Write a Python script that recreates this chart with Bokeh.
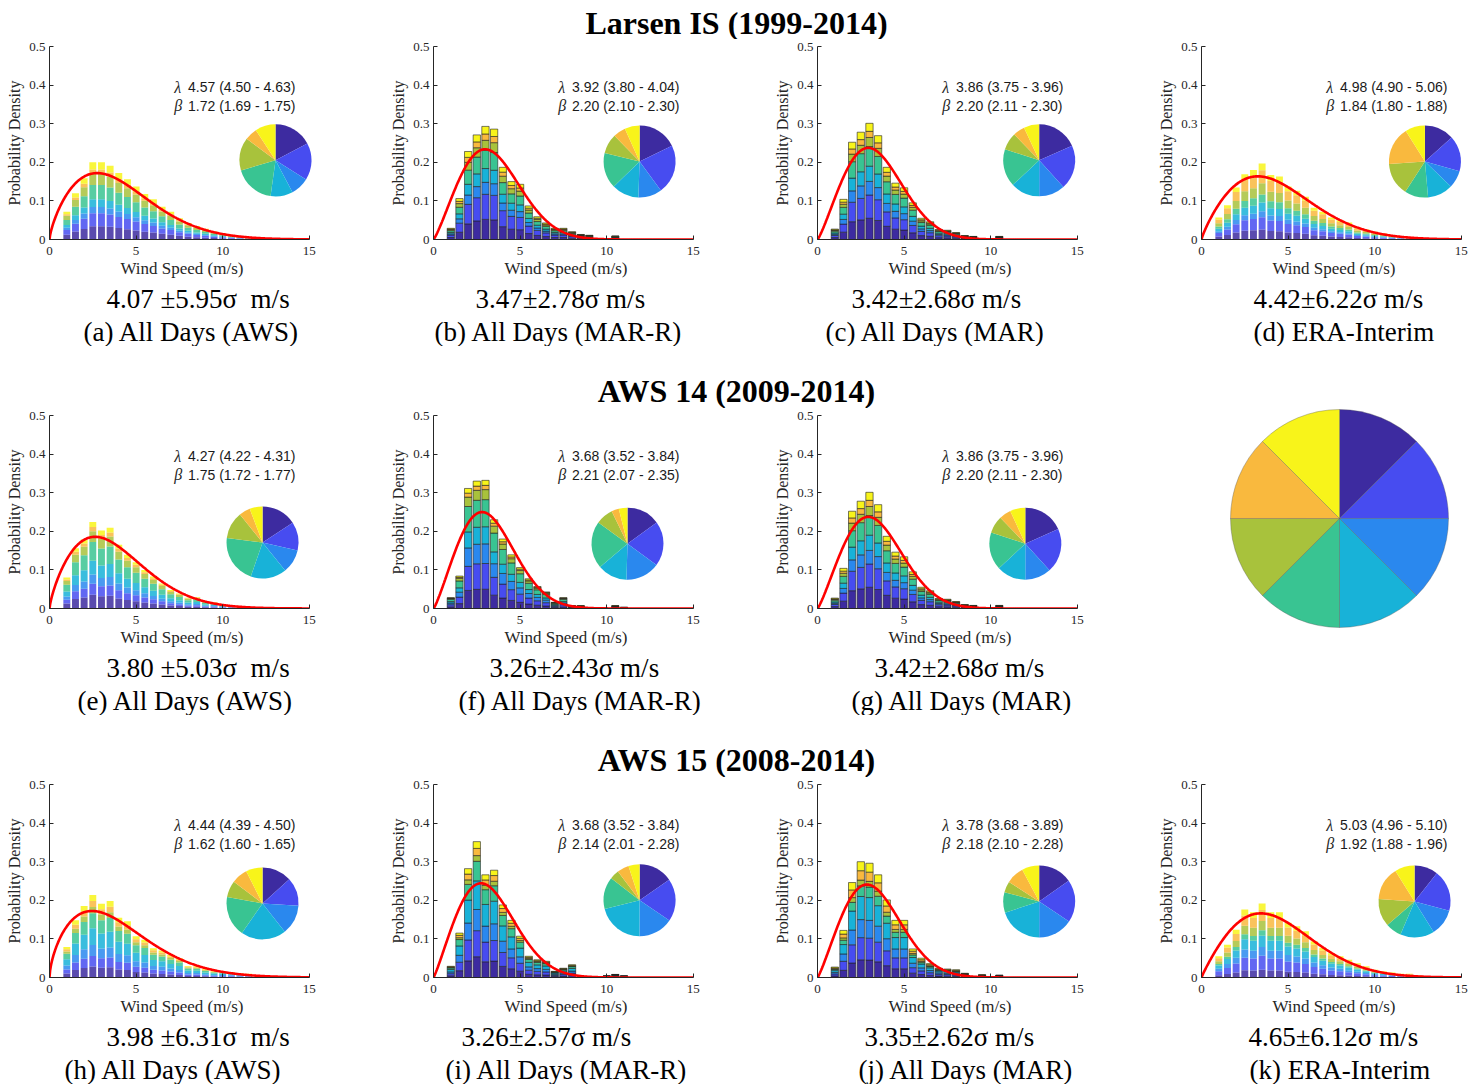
import numpy as np
from bokeh.plotting import figure
from bokeh.layouts import column, row
from bokeh.models import Range1d, Title, ColumnDataSource, FixedTicker
from bokeh.embed import file_html
from bokeh.resources import INLINE
from bokeh.core.properties import value

# ---------------------------------------------------------------- data
directions = ["N", "NE", "E", "SE", "S", "SW", "W", "NW"]
dir_colors = ["#3D2BA0", "#474CF0", "#2A88EE", "#18B2D8",
              "#39C492", "#A8C23C", "#F9B93E", "#F8F41A"]

bin_start = 1.0      # centre of first wind-speed bin (m/s)
bin_step = 0.5       # bin width (m/s)

row_titles = ["Larsen IS (1999-2014)", "AWS 14 (2009-2014)", "AWS 15 (2008-2014)"]

# probability density of each 0.5 m/s bin (first bin centred on 1.0 m/s)
hist_a = [0.072, 0.120, 0.159, 0.200, 0.200, 0.191, 0.172, 0.156, 0.137, 0.118, 0.104, 0.085,
          0.072, 0.055, 0.043, 0.035, 0.028, 0.021, 0.016, 0.011, 0.008, 0.005, 0.003]
hist_b = [0.029, 0.106, 0.228, 0.271, 0.293, 0.286, 0.187, 0.150, 0.143, 0.087, 0.059, 0.043,
          0.029, 0.029, 0.020, 0.013, 0.011, 0.0, 0.0, 0.009]
hist_c = [0.027, 0.104, 0.252, 0.278, 0.301, 0.269, 0.187, 0.146, 0.134, 0.095, 0.055, 0.046,
          0.026, 0.024, 0.018, 0.010, 0.008, 0.0, 0.0, 0.008]
hist_d = [0.057, 0.089, 0.135, 0.169, 0.180, 0.197, 0.167, 0.163, 0.137, 0.126, 0.111, 0.082,
          0.072, 0.057, 0.050, 0.044, 0.031, 0.026, 0.020, 0.016, 0.011, 0.008, 0.006, 0.003]
hist_e = [0.080, 0.156, 0.179, 0.224, 0.202, 0.209, 0.165, 0.139, 0.120, 0.100, 0.083, 0.065,
          0.048, 0.039, 0.028, 0.030, 0.019, 0.017, 0.010, 0.009, 0.004]
hist_f = [0.028, 0.084, 0.311, 0.330, 0.332, 0.230, 0.180, 0.139, 0.106, 0.077, 0.057, 0.043,
          0.016, 0.028, 0.007, 0.007, 0.0, 0.0, 0.0, 0.007, 0.003]
hist_g = [0.027, 0.104, 0.252, 0.278, 0.301, 0.269, 0.187, 0.146, 0.134, 0.095, 0.055, 0.046,
          0.026, 0.024, 0.018, 0.010, 0.008, 0.0, 0.0, 0.008]
hist_h = [0.079, 0.148, 0.185, 0.214, 0.191, 0.198, 0.155, 0.146, 0.107, 0.098, 0.076, 0.070,
          0.059, 0.050, 0.030, 0.029, 0.022, 0.017, 0.016, 0.014, 0.011, 0.010, 0.004]
hist_i = [0.029, 0.115, 0.282, 0.352, 0.266, 0.278, 0.188, 0.148, 0.107, 0.055, 0.046, 0.042,
          0.016, 0.024, 0.033, 0.0, 0.0, 0.0, 0.004, 0.008, 0.004]
hist_j = [0.027, 0.122, 0.246, 0.300, 0.296, 0.266, 0.201, 0.148, 0.148, 0.074, 0.050, 0.036,
          0.024, 0.022, 0.020, 0.011, 0.0, 0.007, 0.0, 0.006]
hist_k = [0.055, 0.085, 0.124, 0.176, 0.169, 0.192, 0.169, 0.169, 0.142, 0.133, 0.120, 0.094,
          0.077, 0.063, 0.055, 0.046, 0.037, 0.029, 0.020, 0.016, 0.013, 0.010, 0.010, 0.006]

# share of days per wind direction (%), N, NE, E, SE, S, SW, W, NW
share_a = [17.2, 16.7, 8.3, 10.0, 18.3, 14.7, 5.6, 9.2]
share_b = [17.8, 22.2, 10.6, 12.2, 16.1, 8.9, 5.6, 6.7]
share_c = [18.3, 20.0, 11.7, 13.1, 16.9, 7.8, 5.3, 6.9]
share_d = [13.3, 16.1, 7.8, 11.4, 10.6, 14.7, 17.2, 8.9]
share_e = [15.8, 12.8, 10.6, 16.1, 21.7, 12.2, 5.0, 5.8]
share_f = [15.0, 20.0, 15.3, 13.3, 21.1, 7.8, 3.3, 3.9]
share_g = [18.3, 20.0, 11.7, 13.1, 16.9, 7.8, 5.3, 6.9]
share_h = [13.3, 12.8, 13.3, 20.3, 18.1, 7.5, 7.2, 7.5]
share_i = [15.3, 19.2, 15.6, 21.1, 14.4, 4.2, 5.3, 5.0]
share_j = [15.3, 19.2, 15.6, 20.0, 9.2, 5.0, 8.1, 7.8]
share_k = [10.6, 18.6, 11.9, 15.3, 7.2, 12.5, 15.0, 8.9]
share_legend = [12.5, 12.5, 12.5, 12.5, 12.5, 12.5, 12.5, 12.5]

# Weibull fit: [estimate, lower, upper]
lam_a, beta_a = [4.57, 4.50, 4.63], [1.72, 1.69, 1.75]
lam_b, beta_b = [3.92, 3.80, 4.04], [2.20, 2.10, 2.30]
lam_c, beta_c = [3.86, 3.75, 3.96], [2.20, 2.11, 2.30]
lam_d, beta_d = [4.98, 4.90, 5.06], [1.84, 1.80, 1.88]
lam_e, beta_e = [4.27, 4.22, 4.31], [1.75, 1.72, 1.77]
lam_f, beta_f = [3.68, 3.52, 3.84], [2.21, 2.07, 2.35]
lam_g, beta_g = [3.86, 3.75, 3.96], [2.20, 2.11, 2.30]
lam_h, beta_h = [4.44, 4.39, 4.50], [1.62, 1.60, 1.65]
lam_i, beta_i = [3.68, 3.52, 3.84], [2.14, 2.01, 2.28]
lam_j, beta_j = [3.78, 3.68, 3.89], [2.18, 2.10, 2.28]
lam_k, beta_k = [5.03, 4.96, 5.10], [1.92, 1.88, 1.96]

mean_texts = ["4.07 \u00b15.95\u03c3\u00a0 m/s", "3.47\u00b12.78\u03c3 m/s", "3.42\u00b12.68\u03c3 m/s",
              "4.42\u00b16.22\u03c3 m/s", "3.80 \u00b15.03\u03c3\u00a0 m/s", "3.26\u00b12.43\u03c3 m/s",
              "3.42\u00b12.68\u03c3 m/s", "3.98 \u00b16.31\u03c3\u00a0 m/s", "3.26\u00b12.57\u03c3 m/s",
              "3.35\u00b12.62\u03c3 m/s", "4.65\u00b16.12\u03c3 m/s"]
captions = ["(a) All Days (AWS)", "(b) All Days (MAR-R)", "(c) All Days (MAR)", "(d) ERA-Interim",
            "(e) All Days (AWS)", "(f) All Days (MAR-R)", "(g) All Days (MAR)",
            "(h) All Days (AWS)", "(i) All Days (MAR-R)", "(j) All Days (MAR)", "(k) ERA-Interim"]
x_ticks = [0, 5, 10, 15]
y_ticks = [0, 0.1, 0.2, 0.3, 0.4, 0.5]

# ---------------------------------------------------------------- layout / style
SERIF = "Liberation Serif"
SANS = "Liberation Sans"
TXT = "#262626"
X_END = 15.3                      # frame runs a little past 15 so pies are not cut
COL_W = [387, 384, 384, 313]
LEFT_B = [49, 46, 46, 46]
RIGHT_B = [73, 73, 73, 2]
TOP_B = 7
BOTTOM_B = 107
FIG_H = TOP_B + 193 + BOTTOM_B
T_BANDS = [39, 62, 62]
TITLE_Y = [22, 44, 44]
PAGE_W = sum(COL_W)
TITLE_X = 736
# left edge (px from the axis) of the two caption lines under each panel
MEAN_LEFT = [57, 42, 34, 52, 57, 56, 57, 57, 28, 47, 47]
CAP_LEFT = [34, 1, 8, 52, 28, 25, 34, 15, 12, 41, 48]

# pie centres in data coordinates (x m/s, y density)
pie_pos = {"a": (13.05, 0.205), "b": (11.9, 0.202), "c": (12.8, 0.205), "d": (12.9, 0.202),
           "e": (12.3, 0.171), "f": (11.2, 0.168), "g": (12.0, 0.168),
           "h": (12.3, 0.192), "i": (11.9, 0.200), "j": (12.8, 0.197), "k": (12.3, 0.197)}


def pie_angles(shares):
    frac = np.asarray(shares, dtype=float)
    frac = frac / frac.sum()
    cum = np.concatenate([[0.0], np.cumsum(frac)])
    start = np.pi / 2 - 2 * np.pi * cum[1:]
    end = np.pi / 2 - 2 * np.pi * cum[:-1]
    return start, end


def panel(key, idx, hist, shares, lam, beta, kind, col):
    p = figure(width=COL_W[col], height=FIG_H, x_range=Range1d(0, X_END), y_range=Range1d(0, 0.5),
               output_backend="svg", toolbar_location=None,
               min_border_left=LEFT_B[col], min_border_right=RIGHT_B[col], min_border_top=TOP_B,
               min_border_bottom=BOTTOM_B)
    p.grid.visible = False
    p.outline_line_color = None
    p.background_fill_color = "white"

    frac = np.asarray(shares, dtype=float)
    frac = frac / frac.sum()
    xs = [bin_start + bin_step * i for i in range(len(hist))]
    data = {"x": xs}
    for d, f in zip(directions, frac):
        data[d] = [h * f for h in hist]
    src = ColumnDataSource(data)
    if kind == "model":
        p.vbar_stack(directions, x="x", width=0.42, source=src, fill_color=dir_colors,
                     line_color="#222222", line_width=0.6)
    else:
        p.vbar_stack(directions, x="x", width=0.40, source=src, fill_color=dir_colors,
                     fill_alpha=0.85, line_color=None)

    xx = np.linspace(0, 15, 400)
    k, l = beta[0], lam[0]
    yy = (k / l) * (xx / l) ** (k - 1) * np.exp(-(xx / l) ** k)
    p.line(xx, yy, line_color="#FF0000", line_width=2.6)

    cx, cy = pie_pos[key]
    s, e = pie_angles(shares)
    p.wedge(x=[cx] * 8, y=[cy] * 8, radius=36, radius_units="screen",
            start_angle=s, end_angle=e, fill_color=dir_colors, line_color=None)

    for yv, sym, vals in [(0.395, "\u03bb", lam), (0.347, "\u03b2", beta)]:
        p.text(x=[7.2], y=[yv], text=[sym], text_font=value(SERIF), text_font_style="italic",
               text_font_size="16px", text_color=TXT, text_baseline="middle", text_align="left")
        p.text(x=[8.0], y=[yv], text=[f"{vals[0]:.2f} ({vals[1]:.2f} - {vals[2]:.2f})"],
               text_font=value(SANS), text_font_size="14px", text_color="#1a1a1a",
               text_baseline="middle", text_align="left")

    p.xaxis.ticker = FixedTicker(ticks=x_ticks)
    p.xaxis.bounds = (0, 15)
    p.yaxis.ticker = FixedTicker(ticks=y_ticks)
    p.yaxis.major_label_overrides = {t: ("0" if t == 0 else f"{t:g}") for t in y_ticks}
    p.xaxis.axis_label = "Wind Speed (m/s)"
    p.yaxis.axis_label = "Probability Density"
    for ax in (p.xaxis[0], p.yaxis[0]):
        ax.axis_line_color = TXT
        ax.major_tick_line_color = TXT
        ax.major_tick_in = 4
        ax.major_tick_out = 0
        ax.minor_tick_line_color = None
        ax.major_label_text_font = SERIF
        ax.major_label_text_font_size = "13px"
        ax.major_label_text_color = TXT
        ax.axis_label_text_font = SERIF
        ax.axis_label_text_font_style = "normal"
        ax.axis_label_text_color = TXT
    p.xaxis.axis_label_text_font_size = "17px"
    p.yaxis.axis_label_text_font_size = "16px"
    p.xaxis.major_label_standoff = 7
    p.xaxis.axis_label_standoff = 1
    p.yaxis.major_label_standoff = 4
    p.yaxis.axis_label_standoff = 3

    t1 = Title(text=mean_texts[idx], align="left", text_font=SERIF, text_font_size="27px",
               text_font_style="normal", text_color="black", standoff=2, offset=MEAN_LEFT[idx])
    t2 = Title(text=captions[idx], align="left", text_font=SERIF, text_font_size="27px",
               text_font_style="normal", text_color="black", standoff=0, offset=CAP_LEFT[idx])
    p.add_layout(t1, "below")
    p.add_layout(t2, "below")
    return p


def blank(w, h):
    p = figure(width=w, height=h, x_range=Range1d(0, w), y_range=Range1d(0, h),
               output_backend="svg", toolbar_location=None,
               x_axis_location=None, y_axis_location=None,
               min_border_left=0, min_border_right=0, min_border_top=0, min_border_bottom=0)
    p.grid.visible = False
    p.outline_line_color = None
    return p


def title_band(text, h, ty):
    p = blank(PAGE_W, h)
    p.text(x=[TITLE_X], y=[h - ty], text=[text], text_font=value(SERIF), text_font_style="bold",
           text_font_size="32px", text_color="black", text_align="center", text_baseline="middle")
    return p


def legend_pie():
    w, h = COL_W[3], FIG_H
    p = blank(w, h)
    s, e = pie_angles(share_legend)
    p.wedge(x=[184] * 8, y=[h - 110] * 8, radius=109, radius_units="screen",
            start_angle=s, end_angle=e, fill_color=dir_colors,
            line_color="#555555", line_alpha=0.35, line_width=1)
    return p


pa = panel("a", 0, hist_a, share_a, lam_a, beta_a, "obs", 0)
pb = panel("b", 1, hist_b, share_b, lam_b, beta_b, "model", 1)
pc = panel("c", 2, hist_c, share_c, lam_c, beta_c, "model", 2)
pd = panel("d", 3, hist_d, share_d, lam_d, beta_d, "obs", 3)
pe = panel("e", 4, hist_e, share_e, lam_e, beta_e, "obs", 0)
pf = panel("f", 5, hist_f, share_f, lam_f, beta_f, "model", 1)
pg = panel("g", 6, hist_g, share_g, lam_g, beta_g, "model", 2)
ph = panel("h", 7, hist_h, share_h, lam_h, beta_h, "obs", 0)
pi = panel("i", 8, hist_i, share_i, lam_i, beta_i, "model", 1)
pj = panel("j", 9, hist_j, share_j, lam_j, beta_j, "model", 2)
pk = panel("k", 10, hist_k, share_k, lam_k, beta_k, "obs", 3)

layout = column(
    title_band(row_titles[0], T_BANDS[0], TITLE_Y[0]),
    row(pa, pb, pc, pd),
    title_band(row_titles[1], T_BANDS[1], TITLE_Y[1]),
    row(row(pe, pf, pg), column(legend_pie())),
    title_band(row_titles[2], T_BANDS[2], TITLE_Y[2]),
    row(ph, pi, pj, pk),
)

open("out.html", "w").write(file_html(layout, INLINE))
